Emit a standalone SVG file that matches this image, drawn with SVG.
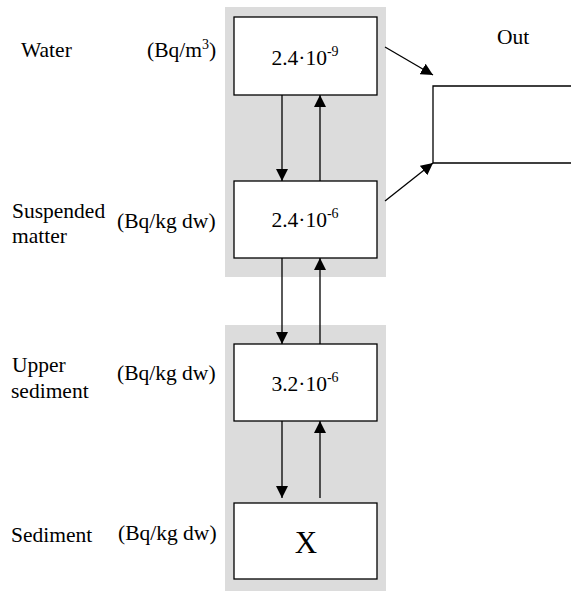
<svg xmlns="http://www.w3.org/2000/svg" width="571" height="592" viewBox="0 0 571 592">
  <style>
    text { font-family: "Liberation Serif", "Times New Roman", serif; fill: #000; }
    .lbl { font-size: 21.5px; }
    .val { font-size: 21.5px; text-anchor: middle; }
    .big { font-size: 31px; text-anchor: middle; }
    .sup { font-size: 14px; }
    .panel { fill: #dcdcdc; stroke: none; }
    .box { fill: #fff; stroke: #000; stroke-width: 1.3; }
    .edge { fill: none; stroke: #000; stroke-width: 1.3; }
  </style>
  <defs>
    <marker id="arrow" viewBox="0 0 12 12" refX="12" refY="6" markerWidth="12" markerHeight="12" markerUnits="userSpaceOnUse" orient="auto">
      <path d="M0,0 L12,6 L0,12 z" fill="#000"/>
    </marker>
  </defs>

  <!-- shaded compartments -->
  <rect class="panel" x="225" y="7" width="161" height="270"/>
  <rect class="panel" x="225" y="325" width="161" height="266"/>

  <!-- row labels -->
  <g id="labels">
    <text class="lbl" x="21" y="57">Water</text>
    <text class="lbl" x="147" y="57">(Bq/m<tspan class="sup" dy="-8">3</tspan><tspan dy="8">)</tspan></text>
    <text class="lbl" x="12" y="218">Suspended</text>
    <text class="lbl" x="12" y="243">matter</text>
    <text class="lbl" x="117" y="228">(Bq/kg dw)</text>
    <text class="lbl" x="12" y="372">Upper</text>
    <text class="lbl" x="11" y="398">sediment</text>
    <text class="lbl" x="117" y="380">(Bq/kg dw)</text>
    <text class="lbl" x="11" y="542">Sediment</text>
    <text class="lbl" x="118" y="540">(Bq/kg dw)</text>
    <text class="lbl" x="497" y="44">Out</text>
  </g>

  <g id="water">
    <rect class="box" x="234" y="17" width="143" height="78"/>
    <text class="val" x="305" y="65">2.4·10<tspan class="sup" dy="-9">-9</tspan></text>
  </g>
  <g id="suspended">
    <rect class="box" x="234" y="181" width="143" height="77"/>
    <text class="val" x="305" y="227">2.4·10<tspan class="sup" dy="-9">-6</tspan></text>
  </g>
  <g id="upper">
    <rect class="box" x="234" y="344" width="143" height="77"/>
    <text class="val" x="305" y="391">3.2·10<tspan class="sup" dy="-9">-6</tspan></text>
  </g>
  <g id="sediment">
    <rect class="box" x="234" y="503" width="143" height="76"/>
    <text class="big" x="306" y="553">X</text>
  </g>
  <g id="out">
    <path class="edge" d="M575,86 H433 V163 H575"/>
  </g>

  <g id="connectors">
    <line class="edge" x1="282" y1="95" x2="282" y2="181" marker-end="url(#arrow)"/>
    <line class="edge" x1="320" y1="181" x2="320" y2="95" marker-end="url(#arrow)"/>
    <line class="edge" x1="282" y1="258" x2="282" y2="344" marker-end="url(#arrow)"/>
    <line class="edge" x1="320" y1="344" x2="320" y2="258" marker-end="url(#arrow)"/>
    <line class="edge" x1="282" y1="421" x2="282" y2="498" marker-end="url(#arrow)"/>
    <line class="edge" x1="320" y1="498" x2="320" y2="421" marker-end="url(#arrow)"/>
    <line class="edge" x1="385" y1="47" x2="433" y2="75" marker-end="url(#arrow)"/>
    <line class="edge" x1="385" y1="201" x2="433" y2="163" marker-end="url(#arrow)"/>
  </g>
</svg>
